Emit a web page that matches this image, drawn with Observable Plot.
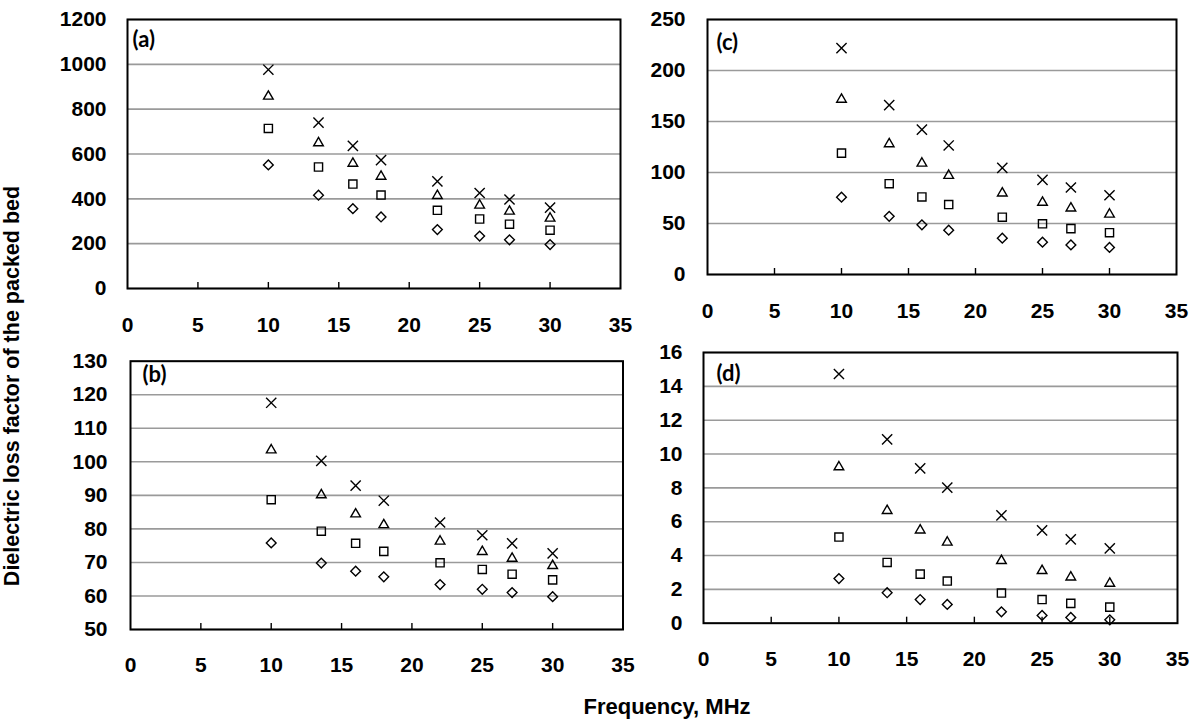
<!DOCTYPE html>
<html>
<head>
<meta charset="utf-8">
<script src="https://cdn.jsdelivr.net/npm/d3@7"></script>
<script src="https://cdn.jsdelivr.net/npm/@observablehq/plot@0.6"></script>
<style>
  html, body { margin: 0; padding: 0; background: #fff; }
  #root { position: relative; width: 1199px; height: 726px; overflow: hidden; font-family: "Liberation Sans", Arial, sans-serif; }
  .pane { position: absolute; }
  #ytitle { position: absolute; left: 13px; top: 386px; width: 0; height: 0; }
  #ytitle span { position: absolute; left: 0; top: 0; transform: translate(-50%, -50%) rotate(-90deg); white-space: nowrap; font-weight: bold; font-size: 21.5px; color: #000; line-height: 1; }
  #xtitle { position: absolute; left: 667px; top: 707px; transform: translate(-50%, -50%); white-space: nowrap; font-weight: bold; font-size: 22px; color: #000; line-height: 1; }
</style>
</head>
<body>
<div id="root">
  <div id="ytitle"><span>Dielectric loss factor of the packed bed</span></div>
  <div id="xtitle">Frequency, MHz</div>
</div>
<script>
// Frequencies (MHz)
const frequencies = [10, 13.56, 16, 18, 22, 25, 27.12, 30];
const xTicks = [0, 5, 10, 15, 20, 25, 30, 35];

// Panel (a)
const aCross    = [976, 740, 636, 573, 478, 426, 397, 361];
const aTriangle = [857, 649, 558, 500, 414, 371, 344, 313];
const aSquare   = [714, 542, 466, 417, 349, 310, 287, 260];
const aDiamond  = [551, 416, 356, 319, 263, 234, 217, 196];
const aTicks = [0, 200, 400, 600, 800, 1000, 1200];

// Panel (b)
const bCross    = [117.6, 100.3, 92.9, 88.4, 81.9, 78.1, 75.7, 72.7];
const bTriangle = [103.5, 90.1, 84.4, 81.2, 76.3, 73.2, 71.2, 69.0];
const bSquare   = [88.7, 79.3, 75.7, 73.3, 69.9, 67.9, 66.5, 64.8];
const bDiamond  = [75.8, 69.8, 67.4, 65.7, 63.4, 62.0, 61.0, 59.8];
const bTicks = [50, 60, 70, 80, 90, 100, 110, 120, 130];

// Panel (c)
const cCross    = [222, 166, 142, 126.5, 104.6, 92.8, 85.3, 77.7];
const cTriangle = [171.6, 128, 109, 97, 79.7, 70.6, 65, 59];
const cSquare   = [119, 89, 76, 68.6, 56.2, 49.7, 45, 41];
const cDiamond  = [75.8, 57, 48.7, 43.4, 35.6, 31.7, 29, 26.5];
const cTicks = [0, 50, 100, 150, 200, 250];

// Panel (d)
const dCross    = [14.73, 10.87, 9.15, 8.01, 6.37, 5.49, 4.95, 4.42];
const dTriangle = [9.23, 6.65, 5.50, 4.78, 3.69, 3.10, 2.72, 2.35];
const dSquare   = [5.09, 3.59, 2.90, 2.49, 1.78, 1.40, 1.17, 0.95];
const dDiamond  = [2.64, 1.80, 1.40, 1.11, 0.67, 0.46, 0.34, 0.20];
const dTicks = [0, 2, 4, 6, 8, 10, 12, 14, 16];

const seriesStyles = [
  {symbol: "times", r: 4.7},
  {symbol: "triangle2", r: 4.6},
  {symbol: "square2", r: 5.2},
  {symbol: "diamond2", r: 4.4}
];

function toRows(values) {
  return frequencies.map((f, i) => ({x: f, y: values[i]}));
}

function panel(cfg) {
  const innerH = cfg.height - cfg.mt - cfg.mb;
  const marks = [
    Plot.gridY(cfg.yTicks, {stroke: "#9a9a9a", strokeOpacity: 1, strokeWidth: 1.6}),
    Plot.tickX(xTicks.slice(1, -1), {x: d => d, insetTop: innerH - 6, stroke: "#000", strokeWidth: 1.4}),
    Plot.axisY(cfg.yTicks, {tickSize: 0, tickPadding: cfg.yPad, fontSize: 21, fontWeight: "bold", label: null, tickFormat: d => String(d)}),
    Plot.axisX(xTicks, {tickSize: 0, tickPadding: cfg.xPad, fontSize: 21, fontWeight: "bold", label: null, tickFormat: d => String(d)}),
    Plot.frame({stroke: "#000", strokeWidth: 2}),
    Plot.text([cfg.label], {frameAnchor: "top-left", text: d => d, dx: cfg.lx, dy: cfg.ly, fontSize: 22, fontWeight: "bold", fontFamily: "Lato, 'Open Sans', sans-serif", textAnchor: "start", lineAnchor: "middle"})
  ];
  cfg.series.forEach((vals, i) => {
    marks.push(Plot.dot(toRows(vals), {x: "x", y: "y", symbol: () => seriesStyles[i].symbol, r: seriesStyles[i].r, stroke: "#000", strokeWidth: 1.4, fill: "none"}));
  });
  const chart = Plot.plot({
    width: cfg.width,
    height: cfg.height,
    marginLeft: cfg.ml,
    marginRight: cfg.mr,
    marginTop: cfg.mt,
    marginBottom: cfg.mb,
    x: {domain: [0, 35], axis: null, label: null},
    y: {domain: [cfg.yTicks[0], cfg.yTicks[cfg.yTicks.length - 1]], axis: null, label: null},
    symbol: {type: "identity"},
    style: {fontFamily: "'Liberation Sans', Arial, sans-serif", color: "#000", background: "transparent", overflow: "visible"},
    marks
  });
  chart.classList.add("pane");
  chart.style.left = cfg.left + "px";
  chart.style.top = cfg.top + "px";
  document.getElementById("root").appendChild(chart);
}

panel({label: "(a)", left: 0, top: 0, width: 640, height: 345, ml: 127, mr: 20, mt: 19, mb: 57,
  yTicks: aTicks, yPad: 21, xPad: 28.5, lx: 5, ly: 20, series: [aCross, aTriangle, aSquare, aDiamond]});
panel({label: "(c)", left: 640, top: 0, width: 559, height: 345, ml: 67, mr: 23, mt: 19, mb: 71,
  yTicks: cTicks, yPad: 22, xPad: 28.5, lx: 9, ly: 23, series: [cCross, cTriangle, cSquare, cDiamond]});
panel({label: "(b)", left: 0, top: 345, width: 640, height: 345, ml: 130, mr: 17.5, mt: 15.7, mb: 61,
  yTicks: bTicks, yPad: 23, xPad: 28, lx: 12, ly: 14, series: [bCross, bTriangle, bSquare, bDiamond]});
panel({label: "(d)", left: 640, top: 345, width: 559, height: 345, ml: 63, mr: 22, mt: 7, mb: 67.3,
  yTicks: dTicks, yPad: 21, xPad: 27.5, lx: 13, ly: 21, series: [dCross, dTriangle, dSquare, dDiamond]});
</script>
</body>
</html>
